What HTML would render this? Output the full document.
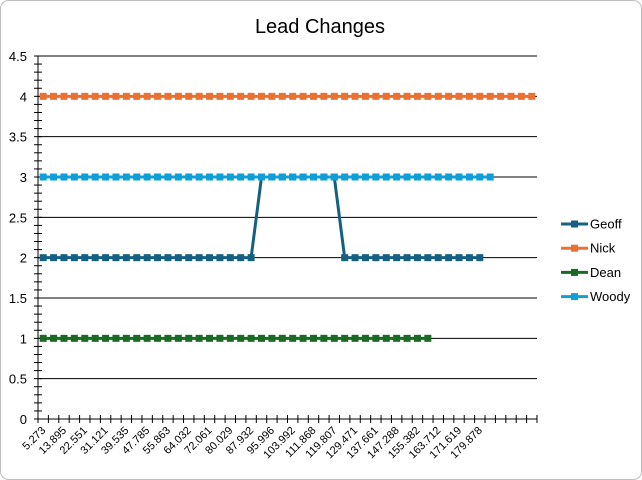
<!DOCTYPE html>
<html><head><meta charset="utf-8"><style>
html,body{margin:0;padding:0;background:#fff;}
svg{display:block;font-family:"Liberation Sans",sans-serif;}
</style></head><body>
<svg id="c" width="642" height="480">
<rect x="0.5" y="0.5" width="641" height="479" rx="8" fill="#fff" stroke="#bfbfbf"/>
<text x="320" y="33" font-size="20" text-anchor="middle" fill="#000">Lead Changes</text>
</svg>
<script>
const categories=[5.273,9.6,13.895,18.2,22.551,26.8,31.121,35.3,39.535,43.7,47.785,51.8,55.863,60.0,64.032,68.0,72.061,76.0,80.029,84.0,87.932,92.0,95.996,100.0,103.992,108.0,111.868,115.8,119.807,124.6,129.471,133.6,137.661,142.5,147.288,151.3,155.382,159.5,163.712,167.7,171.619,175.7,179.878,184.0,188.1,192.2,196.3,200.4];
const geoff=[2,2,2,2,2,2,2,2,2,2,2,2,2,2,2,2,2,2,2,2,2,3,3,3,3,3,3,3,3,2,2,2,2,2,2,2,2,2,2,2,2,2,2];
const nick=new Array(48).fill(4);
const dean=[1,1,1,1,1,1,1,1,1,1,1,1,1,1,1,1,1,1,1,1,1,1,1,1,1,1,1,1,1,1,1,1,1,1,1,1,1,1];
const woody=[3,3,3,3,3,3,3,3,3,3,3,3,3,3,3,3,3,3,3,3,3,3,3,3,3,3,3,3,3,3,3,3,3,3,3,3,3,3,3,3,3,3,3,3];
const yTicks=[0,0.5,1,1.5,2,2.5,3,3.5,4,4.5];
const seriesNames=["Geoff","Nick","Dean","Woody"];
const seriesColors=["#156082","#E97132","#196B24","#0F9ED5"];

const NS="http://www.w3.org/2000/svg",svg=document.getElementById('c');
const X0=38,X1=537,Y0=419,Y1=56;
const bw=(X1-X0)/categories.length;
const xs=i=>X0+(i+0.5)*bw;
const ys=v=>Y0-(v/4.5)*(Y0-Y1);
function mk(t,a,p){const e=document.createElementNS(NS,t);for(const k in a)e.setAttribute(k,a[k]);(p||svg).appendChild(e);return e;}
// gridlines & y labels
yTicks.forEach(v=>{
  const g=mk('line',{x1:X0,x2:X1,y1:ys(v),y2:ys(v),stroke:'#000','stroke-width':1});
  
  
  const t=mk('text',{x:27,y:ys(v)+5,'font-size':13,'text-anchor':'end',fill:'#000'});
  t.textContent=String(v);
  
  
});
// y axis with minor ticks
const ya=mk('line',{x1:X0,x2:X0,y1:Y1,y2:Y0,stroke:'#000','stroke-width':1});


for(let v=0;v<=4.5001;v+=0.1){const tk=mk('line',{x1:X0-4,x2:X0+4,y1:ys(v),y2:ys(v),stroke:'#000','stroke-width':1});

}
// x ticks
for(let i=0;i<=categories.length;i++){const tk=mk('line',{x1:X0+i*bw,x2:X0+i*bw,y1:Y0-4,y2:Y0+4,stroke:'#000','stroke-width':1});

}
categories.forEach((c,i)=>{if(i%2)return;if(i>42)return;
  const x=xs(i)+3,y=Y0+12;
  const t=mk('text',{x:x,y:y,'font-size':11,'text-anchor':'end',fill:'#000',transform:`rotate(-45 ${x} ${y})`});
  t.textContent=c.toFixed(3);
  
  
});
// series
[geoff,nick,dean,woody].forEach((d,s)=>{
  const col=seriesColors[s];
  const p=mk('polyline',{points:d.map((v,i)=>xs(i)+','+ys(v)).join(' '),fill:'none',stroke:col,'stroke-width':3});
  
  
  d.forEach((v,i)=>{const m=mk('rect',{x:xs(i)-3.5,y:ys(v)-3.5,width:7,height:7,fill:col});
  
  });
  const ly=224+s*24.2;
  const l=mk('line',{x1:561,x2:588,y1:ly,y2:ly,stroke:col,'stroke-width':3});
  
  
  const lm=mk('rect',{x:571,y:ly-3.5,width:7,height:7,fill:col});
  
  
  const lt=mk('text',{x:590,y:ly+4.5,'font-size':13,fill:'#000'});
  lt.textContent=seriesNames[s];
  
  
});
</script>
</body></html>
